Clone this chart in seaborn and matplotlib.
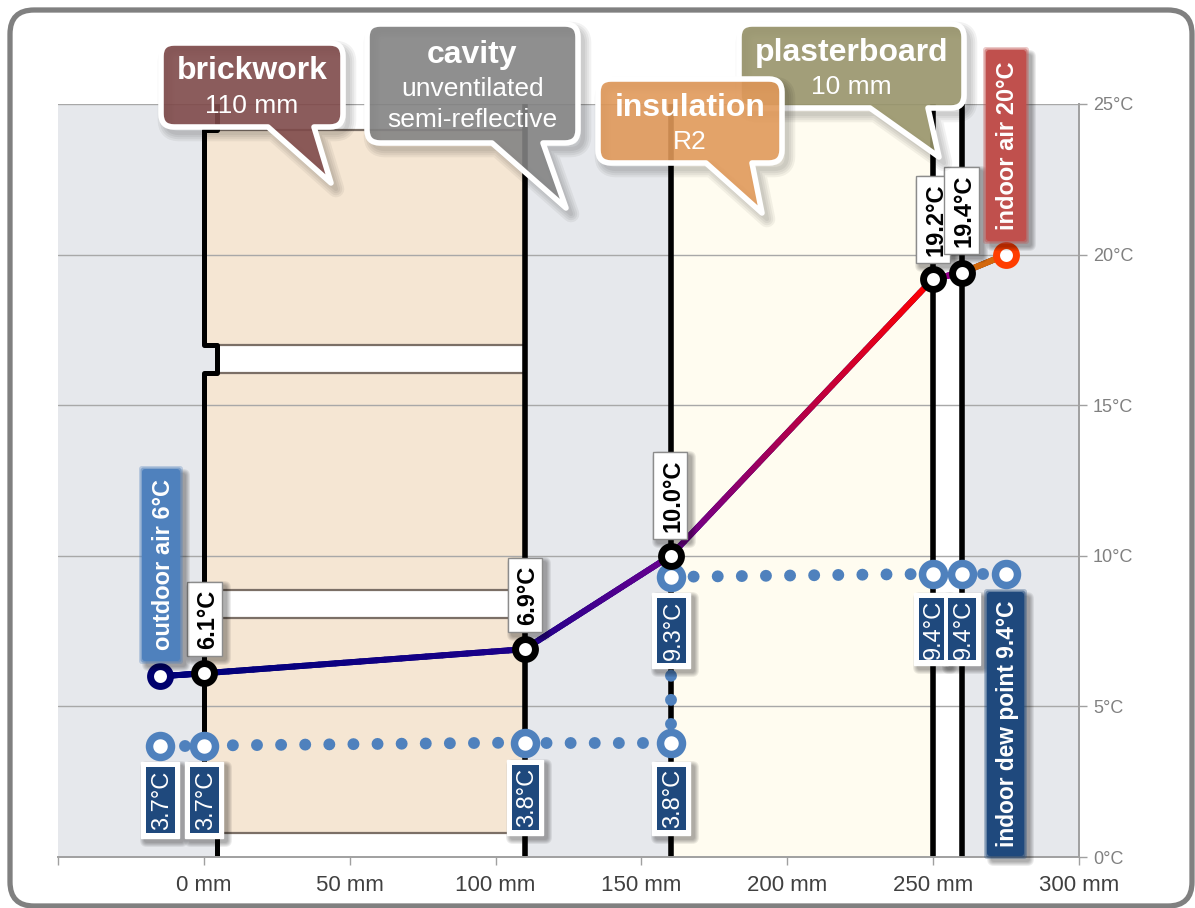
# wall section temperature profile
import numpy as np
import matplotlib
matplotlib.use("Agg")
import matplotlib.pyplot as plt
import seaborn as sns
from matplotlib.collections import LineCollection
from matplotlib.colors import LinearSegmentedColormap
from matplotlib.patches import FancyBboxPatch, PathPatch, Rectangle
from matplotlib.path import Path
from matplotlib.transforms import Affine2D

W, H = 1195, 908

# DATA
position_mm = [-15, 0, 110, 160, 250, 260, 275]
temp_c = [6.0, 6.1, 6.9, 10.0, 19.2, 19.4, 20.0]
dew_x = [-15, 0, 110, 160, 160, 250, 260, 275]
dew_c = [3.7, 3.7, 3.8, 3.8, 9.3, 9.4, 9.4, 9.4]
x_ticks = [-50, 0, 50, 100, 150, 200, 250, 300]
x_labels = ["", "0 mm", "50 mm", "100 mm", "150 mm", "200 mm", "250 mm", "300 mm"]
y_ticks = [0, 5, 10, 15, 20, 25]
y_labels = ["0°C", "5°C", "10°C", "15°C", "20°C", "25°C"]
brick_courses = [(0.8, 7.93), (8.86, 16.07), (17.0, 24.14)]
wall_lines = [110, 160, 250, 260]

# line colours, one start/end pair per segment
seg_colors = [("#00007a", "#00007a"), ("#00007a", "#1d008a"), ("#1d008a", "#6a008f"),
              ("#6a008f", "#ff0000"), ("#99008c", "#99008c"), ("#cc6a10", "#d9660a")]
ring_colors = ["#00006e", "black", "black", "black", "black", "black", "#ff3d00"]

sns.set_style("white")
plt.rcParams["font.family"] = ["Liberation Sans", "DejaVu Sans"]

fig = plt.figure(figsize=(W / 100, H / 100), dpi=100, facecolor="white")
ax = fig.add_axes([58 / W, 1 - 857 / H, (1079 - 58) / W, (857 - 104) / H])
ax.set_xlim(-50, 300)
ax.set_ylim(0, 25)
ax.set_facecolor("#e6e8ec")

# everything decorative is placed in image pixels, y going down
pix = Affine2D().scale(1, -1).translate(0, H)

# outer frame
fig.add_artist(FancyBboxPatch((10, 10), 1182, 896, boxstyle="round,pad=0,rounding_size=24",
                              transform=pix, fc="white", ec="#808080", lw=3.8, zorder=-5))

# LAYERS
ax.fill_between([4.5, 110], 0, 25, color="white", lw=0, zorder=1)
for lo, hi in brick_courses:
    ax.fill_between([0, 110], lo, hi, color="#f5e6d3", lw=0, zorder=1.1)
    ax.plot([4.5, 110], [lo, lo], color="#7b6f66", lw=1.6, zorder=1.2)
    ax.plot([4.5, 110], [hi, hi], color="#7b6f66", lw=1.6, zorder=1.2)
ax.fill_between([160, 250], 0, 25, color="#fffcf0", lw=0, zorder=1)
ax.fill_between([250, 260], 0, 25, color="white", lw=0, zorder=1)

# gridlines
for t in y_ticks[1:]:
    ax.axhline(t, color="#a8a8a8", lw=1, zorder=2)

# brick face steps back into the mortar joints
step_x, step_y = [4.5], [0]
for lo, hi in brick_courses:
    step_x += [4.5, 0, 0, 4.5]
    step_y += [lo, lo, hi, hi]
step_x.append(4.5)
step_y.append(25)
ax.plot(step_x, step_y, color="black", lw=3.6, zorder=3, solid_joinstyle="round")
for x in wall_lines:
    ax.plot([x, x], [0, 25], color="black", lw=4, zorder=3)

# TEMPERATURE LINE
sns.lineplot(x=position_mm, y=temp_c, sort=False, estimator=None, color="#00007a",
             lw=4.3, ax=ax, zorder=4, legend=False)
for i, (c0, c1) in enumerate(seg_colors):
    # small pieces only to shade the drawn segment
    t = np.linspace(0, 1, 40)
    xs = position_mm[i] + t * (position_mm[i + 1] - position_mm[i])
    ys = temp_c[i] + t * (temp_c[i + 1] - temp_c[i])
    pts = np.column_stack([xs, ys]).reshape(-1, 1, 2)
    lc = LineCollection(np.concatenate([pts[:-1], pts[1:]], axis=1), lw=4.3, zorder=4.1, capstyle="round",
                        cmap=LinearSegmentedColormap.from_list("seg", [c0, c1]))
    lc.set_array(t[:-1])
    ax.add_collection(lc)

# DEW POINT LINE, dots spaced 24 px
dot_lw = 8.6
period = 24.1 * 0.72 / dot_lw
first_dot_px = [25, 29, 21.5, 19, 23, 24, 21]
for i, d in enumerate(first_dot_px):
    sns.lineplot(x=dew_x[i:i + 2], y=dew_c[i:i + 2], sort=False, estimator=None, color="#4f81bd",
                 lw=dot_lw, ax=ax, zorder=4.5, legend=False, dash_capstyle="round",
                 linestyle=((24.1 - d) * 0.72 / dot_lw, (0.001, period)))

# RINGS
sns.scatterplot(x=dew_x, y=dew_c, color="white", edgecolor="#4f81bd", linewidth=5.4, s=250,
                ax=ax, zorder=5, clip_on=False, legend=False)
for x, t, c in zip(position_mm, temp_c, ring_colors):
    sns.scatterplot(x=[x], y=[t], color="white", edgecolor=c, linewidth=5, s=205,
                    ax=ax, zorder=5.5, clip_on=False, legend=False)


def shadow(x0, y0, x1, y1, z, r=2, dx=4, dy=4):
    for k in range(5):
        g = 5 - k
        ax.add_patch(FancyBboxPatch((x0 + dx - g, y0 + dy - g), x1 - x0 + 2 * g, y1 - y0 + 2 * g,
                                    boxstyle=f"round,pad=0,rounding_size={r + g}", transform=pix,
                                    fc="black", ec="none", alpha=0.07, clip_on=False, zorder=z))


def value_box(x0, y0, x1, y1, txt, dark=False, z=6):
    shadow(x0, y0, x1, y1, z)
    ax.add_patch(Rectangle((x0, y0), x1 - x0, y1 - y0, transform=pix, fc="white",
                           ec="#8c8c8c" if not dark else "white", lw=1, clip_on=False, zorder=z + 0.1))
    if dark:
        ax.add_patch(Rectangle((x0 + 5, y0 + 5), x1 - x0 - 9, y1 - y0 - 10, transform=pix, fc="#1f497d",
                               ec="none", clip_on=False, zorder=z + 0.2))
    ax.text((x0 + x1) / 2 + (2.5 if dark else 3), (y0 + y1) / 2, txt, transform=pix, rotation=90,
            ha="center", va="center", rotation_mode="anchor", fontsize=17,
            color="white" if dark else "black", weight="normal" if dark else "bold",
            clip_on=False, zorder=z + 0.3)


# labels on the temperature points (first and last have their own tags)
temp_boxes = [(187, 582, 222, 656), (508, 558, 542, 632), (653, 452, 687, 539),
              (916, 176, 950, 263), (944, 167, 979, 254)]
for i, (box, t) in enumerate(zip(temp_boxes, temp_c[1:6])):
    value_box(*box, f"{t:.1f}°C", z=6 + i * 0.01)

dew_boxes = [(141, 762, 179, 838), (185, 762, 223, 838), (507, 760, 543, 835), (652, 762, 690, 835),
             (652, 593, 690, 668), (914, 593, 948, 665), (943, 593, 980, 665)]
for i, (box, t) in enumerate(zip(dew_boxes, dew_c[:7])):
    value_box(*box, f"{t:.1f}°C", dark=True, z=6 + i * 0.01)


# blurred coloured tags
def tag(x0, y0, x1, y1, txt, color, size):
    shadow(x0, y0, x1, y1, 6.5, r=2, dx=5, dy=5)
    for g, a in [(3, 0.3), (1.5, 0.5), (0, 1)]:
        ax.add_patch(FancyBboxPatch((x0 - g, y0 - g), x1 - x0 + 2 * g, y1 - y0 + 2 * g,
                                    boxstyle="round,pad=0,rounding_size=3", transform=pix,
                                    fc=color, ec="none", alpha=a, clip_on=False, zorder=6.6))
    ax.text((x0 + x1) / 2 + 2, (y0 + y1) / 2, txt, transform=pix, rotation=90, ha="center", va="center",
            rotation_mode="anchor", fontsize=size, color="white", weight="bold", clip_on=False, zorder=6.7)


tag(142, 469, 180, 661, "outdoor air 6°C", "#4f81bd", 17)
tag(986, 50, 1026, 241, "indoor air 20°C", "#c0504d", 17)
tag(987, 592, 1024, 856, "indoor dew point 9.4°C", "#1f497d", 16.4)


# SPEECH BUBBLES
def bubble_path(x0, y0, x1, y1, bx0, bx1, tx, ty, r=13):
    verts = [(x0 + r, y0), (x1 - r, y0), (x1, y0), (x1, y0 + r), (x1, y1 - r), (x1, y1), (x1 - r, y1),
             (bx1, y1), (tx, ty), (bx0, y1), (x0 + r, y1), (x0, y1), (x0, y1 - r), (x0, y0 + r), (x0, y0),
             (x0 + r, y0), (x0 + r, y0)]
    codes = [Path.MOVETO, Path.LINETO, Path.CURVE3, Path.CURVE3, Path.LINETO, Path.CURVE3, Path.CURVE3,
             Path.LINETO, Path.LINETO, Path.LINETO, Path.LINETO, Path.CURVE3, Path.CURVE3, Path.LINETO,
             Path.CURVE3, Path.CURVE3, Path.CLOSEPOLY]
    return Path(verts, codes)


def bubble(geom, color, z, title, lines):
    p = bubble_path(*geom)
    shift = Affine2D().translate(5, 6) + pix
    for lw in (12, 9, 6, 3):
        ax.add_patch(PathPatch(p, transform=shift, fc="none", ec="black", lw=lw, alpha=0.05,
                               joinstyle="round", clip_on=False, zorder=z))
    ax.add_patch(PathPatch(p, transform=pix, fc=color, alpha=0.9, ec="none", clip_on=False, zorder=z + 0.1))
    ax.add_patch(PathPatch(p, transform=pix, fc="none", ec="white", lw=4, clip_on=False,
                           joinstyle="round", zorder=z + 0.2))
    cx = (geom[0] + geom[2]) / 2
    ax.text(cx, title[1] + 2, title[0], transform=pix, ha="center", va="center", fontsize=23, weight="bold",
            color="white", clip_on=False, zorder=z + 0.3)
    for txt, y in lines:
        ax.text(cx, y + 2, txt, transform=pix, ha="center", va="center", fontsize=19, color="white",
                clip_on=False, zorder=z + 0.3)


bubble((161, 43, 343, 127, 268, 314, 331, 183), "#7f4a4a", 7, ("brickwork", 69), [("110 mm", 104)])
bubble((367, 24, 578, 143, 492, 543, 566, 208), "#838383", 7.5, ("cavity", 53),
       [("unventilated", 87), ("semi-reflective", 118)])
bubble((739, 24, 964, 108, 870, 928, 939, 157), "#98946a", 8, ("plasterboard", 51), [("10 mm", 85)])
bubble((598, 79, 782, 163, 706, 752, 762, 213), "#e0995a", 8.5, ("insulation", 106), [("R2", 140)])

# AXES
ax.set_xticks(x_ticks, x_labels, fontsize=16, color="#404040")
ax.yaxis.tick_right()
ax.set_yticks(y_ticks, y_labels, fontsize=13, color="#808080")
ax.tick_params(axis="x", length=6, width=1, color="#a0a0a0", pad=7, bottom=True)
ax.tick_params(axis="y", length=6, width=1, color="#a0a0a0", pad=4, right=True)
for s in ["top", "left"]:
    ax.spines[s].set_visible(False)
for s in ["right", "bottom"]:
    ax.spines[s].set_color("#a0a0a0")
    ax.spines[s].set_linewidth(1.4)
    ax.spines[s].set_zorder(3.5)

fig.savefig("out.png", dpi=100)
